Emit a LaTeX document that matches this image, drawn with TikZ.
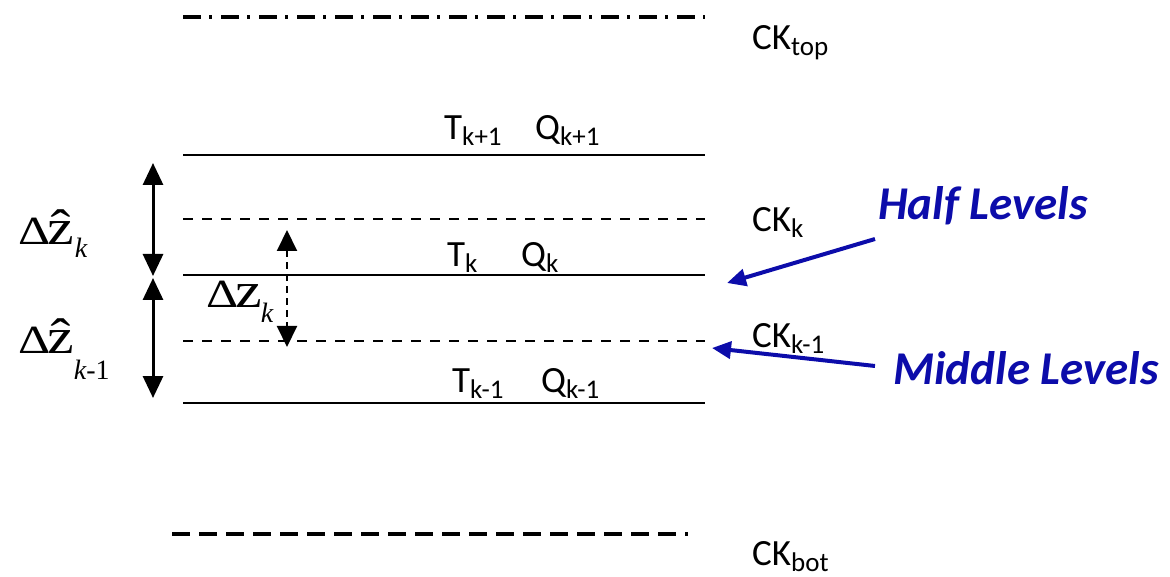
\documentclass[tikz,border=0pt]{standalone}
\usepackage{fontspec}
\setmainfont{Carlito}
\newfontfamily\tms{Liberation Serif}
\usetikzlibrary{arrows.meta}
\definecolor{lvblue}{RGB}{12,12,170}
\newcommand\sbx[1]{\raisebox{-6pt}{\fontsize{27}{27}\selectfont #1}}
\newcommand\bigD{\scalebox{1.25}[1]{Δ}}
\newcommand\bigz[1]{\scalebox{1.5}[1.25]{#1}}
\tikzset{
  lbl/.style={anchor=base west, inner sep=0pt, font=\fontsize{37}{40}\selectfont},
  mth/.style={anchor=base west, inner sep=0pt, font=\tms\fontsize{40}{40}\selectfont},
  bluelbl/.style={anchor=base west, inner sep=0pt, text=lvblue, font=\fontsize{47}{50}\selectfont\bfseries\itshape},
  fulllevel/.style={line width=2.5pt},
  halflevel/.style={line width=2pt, dash pattern=on 10pt off 9pt},
  toplevel/.style={line width=3.5pt, dash pattern=on 18pt off 8pt on 3pt off 9pt},
  botlevel/.style={line width=4pt, dash pattern=on 18pt off 9pt},
  dimarrow/.style={line width=3pt, {Triangle[width=20pt,length=22pt]}-{Triangle[width=20pt,length=22pt]}},
  dimdashed/.style={line width=2pt, dash pattern=on 7pt off 5pt, {Triangle[width=20pt,length=21pt]}-{Triangle[width=20pt,length=21pt]}},
  bluearrow/.style={draw=lvblue, line width=4pt, -{Triangle[width=17pt,length=19pt]}}
}
\begin{document}
\begin{tikzpicture}[x=1pt,y=-1pt]
\useasboundingbox (0,0) rectangle (1170,577);
% levels
\draw[toplevel] (183,17) -- (705,17);
\draw[fulllevel] (183,155) -- (705,155);
\draw[halflevel] (183,219) -- (705,219);
\draw[fulllevel] (183,275) -- (705,275);
\draw[halflevel] (183,341) -- (705,341);
\draw[fulllevel] (183,403) -- (705,403);
\draw[botlevel] (172,534) -- (688,534);
% level labels
\node[lbl] (tk1) at (444,140) {T\sbx{k+1}};
\node[lbl] (qk1) at (535,140) {Q\sbx{k+1}};
\node[lbl] (tk) at (447,267) {T\sbx{k}};
\node[lbl] (qk) at (521,267) {Q\sbx{k}};
\node[lbl] (tkm) at (452,392) {T\sbx{k-1}};
\node[lbl] (qkm) at (541,392) {Q\sbx{k-1}};
\node[lbl] (cktop) at (752,50) {CK\sbx{top}};
\node[lbl] (ckk) at (752,232) {CK\sbx{k}};
\node[lbl] (ckkm) at (752,347) {CK\sbx{k-1}};
\node[lbl] (ckbot) at (752,565) {CK\sbx{bot}};
% dimension arrows
\coordinate (a1) at (153,163);
\coordinate (a2) at (153,276);
\coordinate (a3) at (153,278);
\coordinate (a4) at (153,398);
\draw[dimarrow] (a1) -- (a2);
\draw[dimarrow] (a3) -- (a4);
\coordinate (d1) at (287,230);
\coordinate (d2) at (287,347);
\draw[dimdashed] (d1) -- (d2);
% math labels
\node[mth] (dzk) at (18,245) {\bigD\kern-3pt\bigz{\^z}\kern1pt\raisebox{-13pt}{\fontsize{28}{28}\selectfont\itshape k}};
\node[mth] (dzkm) at (18,353) {\bigD\kern-3pt\bigz{\^z}\kern0pt\raisebox{-26pt}{\fontsize{28}{28}\selectfont{\itshape k}-1}};
\node[mth] (dz) at (206,308) {\bigD\kern-3pt\bigz{z}\kern-1pt\raisebox{-15pt}{\fontsize{28}{28}\selectfont\itshape k}};
% blue annotations
\node[bluelbl] (half) at (878,220) {Half Levels};
\node[bluelbl] (mid) at (893,384) {Middle Levels};
\coordinate (h0) at (875,239);
\coordinate (h1) at (727,283);
\coordinate (m0) at (875,366);
\coordinate (m1) at (712,348);
\draw[bluearrow] (h0) -- (h1);
\draw[bluearrow] (m0) -- (m1);
\end{tikzpicture}
\end{document}
